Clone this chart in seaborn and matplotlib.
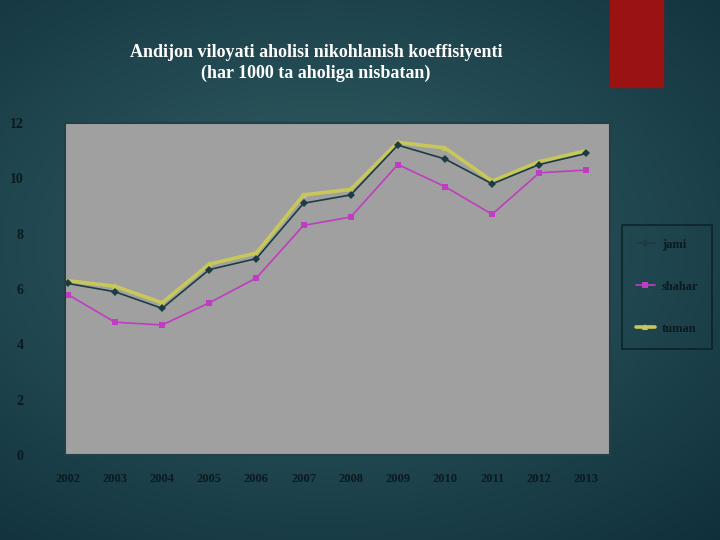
import matplotlib
matplotlib.use("Agg")
import matplotlib.pyplot as plt
import numpy as np
import pandas as pd
import seaborn as sns

years = [2002, 2003, 2004, 2005, 2006, 2007, 2008, 2009, 2010, 2011, 2012, 2013]
jami = [6.2, 5.9, 5.3, 6.7, 7.1, 9.1, 9.4, 11.2, 10.7, 9.8, 10.5, 10.9]
shahar = [5.8, 4.8, 4.7, 5.5, 6.4, 8.3, 8.6, 10.5, 9.7, 8.7, 10.2, 10.3]
tuman = [6.3, 6.1, 5.5, 6.9, 7.3, 9.4, 9.6, 11.3, 11.1, 9.9, 10.6, 11.0]
series_names = ["jami", "shahar", "tuman"]
title = "Andijon viloyati aholisi nikohlanish koeffisiyenti\n(har 1000 ta aholiga nisbatan)"

df = pd.DataFrame({"year": [str(y) for y in years] * 3,
                   "value": jami + shahar + tuman,
                   "series": np.repeat(series_names, len(years))})

sns.set_theme(style="white")
plt.rcParams["font.family"] = ["Liberation Serif", "DejaVu Serif"]

fig = plt.figure(figsize=(7.2, 5.4), dpi=100)

# slide background: dark teal radial gradient
bg = fig.add_axes([0, 0, 1, 1], zorder=-10)
yy, xx = np.mgrid[0:1:270j, 0:1:360j]
r = np.sqrt(((xx - 0.45) / 0.9) ** 2 + ((yy - 0.55) / 0.8) ** 2)
grad = np.clip(1 - r, 0, 1)
c_in = np.array([0.20, 0.38, 0.40])
c_out = np.array([0.05, 0.17, 0.22])
img = c_out + (c_in - c_out) * grad[..., None]
bg.imshow(img, extent=[0, 1, 0, 1], aspect="auto", origin="lower")
bg.set_axis_off()

# red block top right
fig.patches.append(plt.Rectangle((610 / 720, 1 - 87 / 540), 53 / 720, 87 / 540,
                                 transform=fig.transFigure, color="#9a1212", zorder=-5))

ax = fig.add_axes([65 / 720, 85 / 540, 545 / 720, 332 / 540])
ax.set_facecolor("#a0a0a0")

palette = {"jami": "#1c3c44", "shahar": "#c03cc0", "tuman": "#c8c85a"}
widths = {"jami": 1.2, "shahar": 1.2, "tuman": 2.6}
markers = {"jami": "D", "shahar": "s", "tuman": "^"}
order = ["tuman", "shahar", "jami"]
for name in order:
    sub = df[df["series"] == name]
    sns.lineplot(data=sub, x="year", y="value", color=palette[name], lw=widths[name],
                 marker=markers[name], markersize=4 if name != "tuman" else 5,
                 markeredgewidth=0, label=name, ax=ax, legend=False, sort=False)

ax.set_ylim(0, 12)
ax.set_yticks(range(0, 13, 2))
ax.set_xlim(-0.06, 11.5)
ax.set_xlabel("")
ax.set_ylabel("")
for s in ax.spines.values():
    s.set_color("#234048")
    s.set_linewidth(1.5)
ax.tick_params(axis="x", colors="#0a1a1e", labelsize=9, pad=10, length=3, direction="out")
ax.tick_params(axis="y", colors="#0a1a1e", labelsize=10, pad=30, length=0)
for lab in ax.get_xticklabels() + ax.get_yticklabels():
    lab.set_fontweight("bold")

handles, labels = ax.get_legend_handles_labels()
hmap = dict(zip(labels, handles))
leg = fig.legend([hmap[n] for n in series_names], series_names,
                 loc="upper left", bbox_to_anchor=(622 / 720, 1 - 225 / 540),
                 borderaxespad=0, frameon=True, labelspacing=2.4, handlelength=1.5,
                 handletextpad=0.6, borderpad=1.1, labelcolor="#0a1a1e",
                 prop={"weight": "bold", "size": 9})
leg.get_frame().set_facecolor("none")
leg.get_frame().set_edgecolor("#081c22")
leg.get_frame().set_linewidth(1.2)
leg.get_frame().set_boxstyle("square", pad=0)

fig.text(316 / 720, 1 - 63 / 540, title, ha="center", va="center", color="white",
         fontsize=13, fontweight="bold", linespacing=1.3)

fig.savefig("out.png", dpi=100)
